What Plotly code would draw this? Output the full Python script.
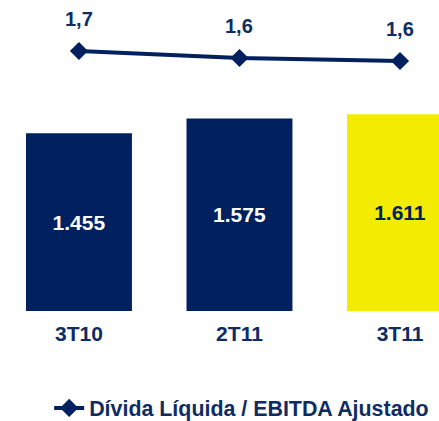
import plotly.graph_objects as go

categories = ["3T10", "2T11", "3T11"]
divida_liquida = [1455, 1575, 1611]
divida_labels = ["1.455", "1.575", "1.611"]
ratio_values = [1.70, 1.63, 1.60]
ratio_labels = ["1,7", "1,6", "1,6"]
legend_name = "Dívida Líquida / EBITDA Ajustado"

NAVY = "#002060"
YELLOW = "#F4EC00"
TEXT_NAVY = "#0E2C63"
FONT = "Liberation Sans, Arial, sans-serif"

bar_colors = [NAVY, NAVY, YELLOW]
bar_text_colors = ["white", "white", NAVY]

fig = go.Figure()
fig.add_trace(go.Bar(
    x=categories, y=divida_liquida, text=divida_labels,
    textposition="inside", insidetextanchor="middle",
    textfont=dict(family=FONT, size=21, color=bar_text_colors, weight="bold"),
    marker=dict(color=bar_colors, line=dict(width=0)),
    width=0.66, showlegend=False, hoverinfo="skip",
))
fig.add_trace(go.Scatter(
    x=categories, y=ratio_values, yaxis="y2", name=legend_name,
    mode="lines+markers",
    line=dict(color=NAVY, width=4),
    marker=dict(symbol="diamond", size=14, color=NAVY),
))
for c, v, t in zip(categories, ratio_values, ratio_labels):
    fig.add_annotation(x=c, y=v, yref="y2", text=t, showarrow=False,
                       yshift=32, font=dict(family=FONT, size=20, color=TEXT_NAVY, weight="bold"))

fig.update_layout(
    width=439, height=421,
    margin=dict(l=0, r=0, t=0, b=110, autoexpand=False),
    paper_bgcolor="white", plot_bgcolor="white",
    xaxis=dict(range=[-0.492, 2.243], showgrid=False, zeroline=False, showline=False,
               automargin=False,
               tickfont=dict(family=FONT, size=21, color=TEXT_NAVY, weight="bold"),
               ticks="outside", ticklen=4, tickcolor="rgba(0,0,0,0)"),
    yaxis=dict(range=[0, 2545], visible=False),
    yaxis2=dict(range=[-0.90, 2.21], overlaying="y", visible=False),
    showlegend=True,
    legend=dict(orientation="h", x=0.112, xanchor="left", y=-0.312, yanchor="middle",
                font=dict(family=FONT, size=21.4, color=TEXT_NAVY, weight="bold"),
                bgcolor="rgba(0,0,0,0)"),
    bargap=0.34,
)
fig.write_html("out.html", config={"displayModeBar": False},
               post_script="document.body.style.margin='0';document.body.style.overflow='hidden';")
